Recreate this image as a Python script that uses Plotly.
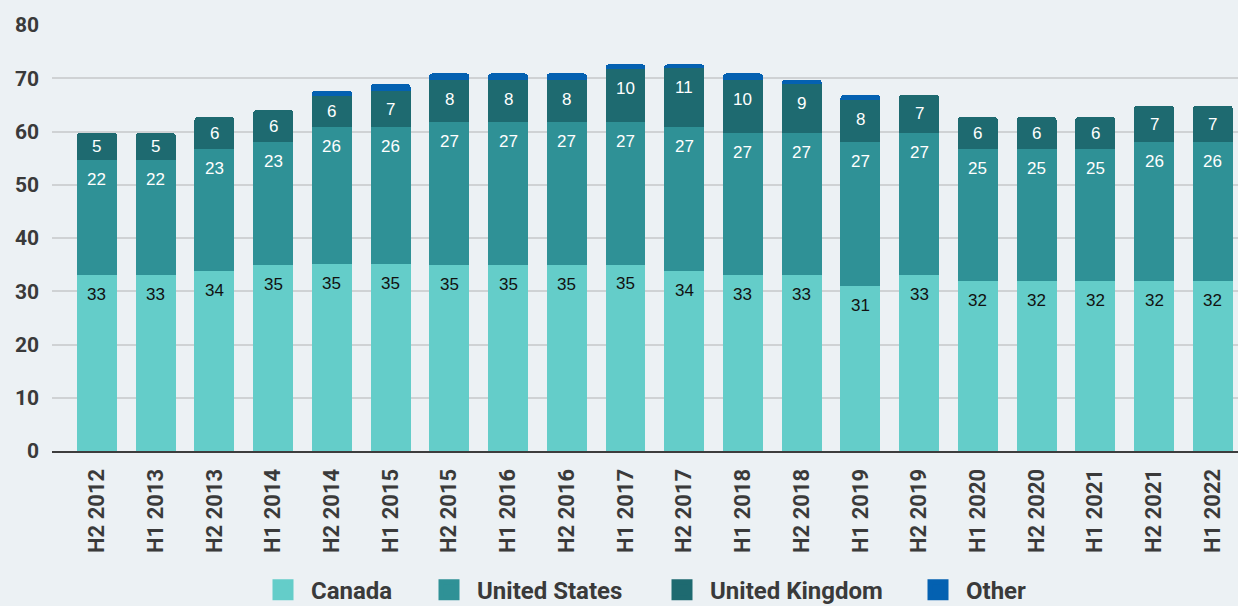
import plotly.graph_objects as go

periods = ["H2 2012", "H1 2013", "H2 2013", "H1 2014", "H2 2014", "H1 2015", "H2 2015",
           "H1 2016", "H2 2016", "H1 2017", "H2 2017", "H1 2018", "H2 2018", "H1 2019",
           "H2 2019", "H1 2020", "H2 2020", "H1 2021", "H2 2021", "H1 2022"]
canada = [33.0, 33.0, 33.8, 34.9, 35.1, 35.1, 34.9, 34.9, 34.9, 35.0,
          33.8, 33.0, 33.0, 31.0, 33.0, 31.9, 31.9, 31.9, 31.9, 31.9]
united_states = [21.6, 21.6, 22.9, 23.1, 25.7, 25.7, 26.9, 26.9, 26.9, 26.8,
                 27.0, 26.7, 26.7, 27.0, 26.7, 24.8, 24.8, 24.8, 26.1, 26.1]
united_kingdom = [5.1, 5.1, 6.0, 6.0, 5.9, 6.8, 7.9, 7.9, 7.9, 9.9,
                  11.1, 10.0, 9.2, 7.9, 7.2, 6.0, 6.0, 6.0, 6.8, 6.8]
other = [0, 0, 0, 0, 1.0, 1.3, 1.2, 1.2, 1.2, 0.9,
         0.7, 1.2, 0.8, 0.9, 0, 0, 0, 0, 0, 0]
y_ticks = [0, 10, 20, 30, 40, 50, 60, 70, 80]

series = [
    ("Canada", canada, "#64CDC9", "#111111"),
    ("United States", united_states, "#2F9196", "#FFFFFF"),
    ("United Kingdom", united_kingdom, "#1E6A70", "#FFFFFF"),
    ("Other", other, "#0461B1", None),
]
legend_ids = ["legend", "legend2", "legend3", "legend4"]
legend_x = [255, 421, 654, 910]  # left edge of each legend entry, px

fig = go.Figure()
base = [0.0] * len(periods)
annotations = []
for (name, vals, color, txtcolor), lid in zip(series, legend_ids):
    marker = dict(color=color, line=dict(width=0))
    if name == "Other":
        marker["cornerradius"] = 3
    fig.add_trace(go.Bar(name=name, x=periods, y=vals, marker=marker,
                         legendgroup=name, showlegend=False))
    # legend entry with a larger square swatch
    fig.add_trace(go.Scatter(name=name, x=[None], y=[None], mode="markers",
                             marker=dict(symbol="square", size=16, color=color,
                                         line=dict(color=color, width=5)),
                             legendgroup=name, legend=lid, showlegend=True))
    if txtcolor:
        for i, v in enumerate(vals):
            top = base[i] + v
            annotations.append(dict(
                x=periods[i], y=top - min(3.6, v / 2), xref="x", yref="y",
                text=f"{v:.0f}", showarrow=False, yanchor="middle",
                font=dict(family="Liberation Sans, Arial", size=17, color=txtcolor)))
    base = [b + v for b, v in zip(base, vals)]

axis_font = dict(family="Roboto", size=21, color="#3a3a3a", weight="bold")

legend_common = dict(orientation="h", xref="container", yref="container",
                     xanchor="left", y=0.026, yanchor="middle", itemsizing="trace",
                     itemwidth=46,
                     font=dict(family="Roboto", size=24, color="#3a3a3a", weight="bold"),
                     bgcolor="rgba(0,0,0,0)")

layout_legends = {}
for lid, lx in zip(legend_ids, legend_x):
    layout_legends[lid] = dict(legend_common, x=lx / 1238)

fig.update_layout(
    width=1238, height=606,
    barmode="stack", bargap=0.32,
    paper_bgcolor="#ECF1F4", plot_bgcolor="#ECF1F4",
    margin=dict(l=52, r=0, t=25, b=155, autoexpand=False),
    annotations=annotations,
    showlegend=True,
    xaxis=dict(range=[-0.766, 19.43], tickangle=-90, tickfont=dict(family="Roboto", size=22, color="#3a3a3a", weight="bold"),
               showgrid=False, showline=True, linecolor="#3d3d3d", linewidth=2,
               ticks="", ticklabelstandoff=7, fixedrange=True, automargin=False),
    yaxis=dict(range=[0, 80], tickvals=y_ticks, tickfont=axis_font,
               showgrid=True, gridcolor="#CFD2D4", gridwidth=2, zeroline=False,
               showline=False, ticks="", ticklabelstandoff=12, fixedrange=True, automargin=False),
    **layout_legends,
)

fig.write_html("out.html", config={"displayModeBar": False},
               post_script="document.body.style.margin='0';document.body.style.overflow='hidden';document.body.style.background='#ECF1F4';")
